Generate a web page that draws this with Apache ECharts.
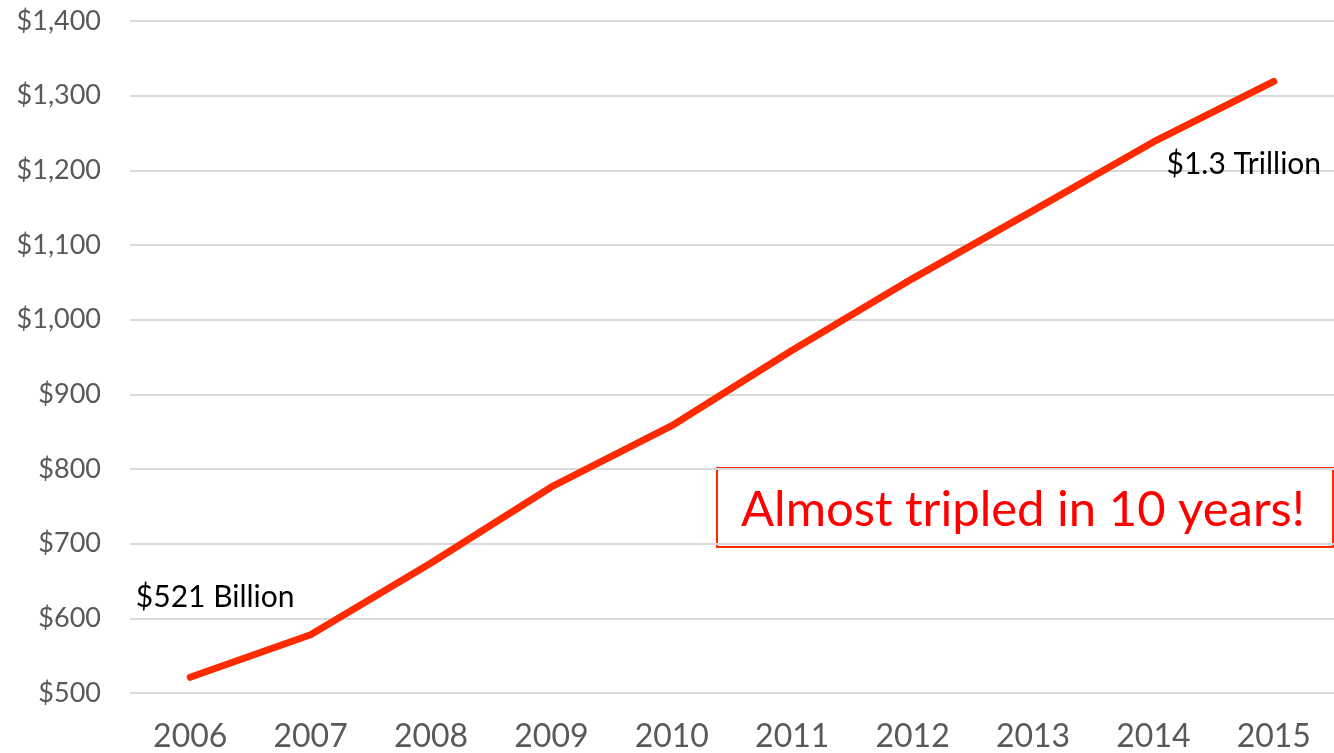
<!DOCTYPE html>
<html>
<head>
<meta charset="utf-8">
<script src="https://cdn.jsdelivr.net/npm/echarts@6/dist/echarts.min.js"></script>
<style>
html,body{margin:0;padding:0;background:#fff;}
#chart{width:1334px;height:753px;}
</style>
</head>
<body>
<div id="chart"></div>
<script>
const years = ['2006','2007','2008','2009','2010','2011','2012','2013','2014','2015'];
const values = [521, 578, 674, 776, 858, 959, 1055, 1146, 1238, 1319];
const yTicks = [500, 600, 700, 800, 900, 1000, 1100, 1200, 1300, 1400];
const startLabel = '$521 Billion';
const endLabel = '$1.3 Trillion';
const calloutText = 'Almost tripled in 10 years!';

const FONT = 'Lato';
const chart = echarts.init(document.getElementById('chart'));
chart.setOption({
  animation: false,
  backgroundColor: '#ffffff',
  grid: { left: 130, top: 21, width: 1208, height: 673, containLabel: false },
  xAxis: {
    type: 'category',
    data: years,
    boundaryGap: true,
    axisLine: { show: false },
    axisTick: { show: false },
    axisLabel: { color: '#595959', fontFamily: FONT, fontSize: 32, margin: 28 }
  },
  yAxis: {
    type: 'value',
    min: yTicks[0],
    max: yTicks[yTicks.length - 1],
    interval: 100,
    axisLine: { show: false },
    axisTick: { show: false },
    splitLine: { lineStyle: { color: '#d9d9d9', width: 2 } },
    axisLabel: {
      color: '#595959', fontFamily: FONT, fontSize: 27, margin: 29,
      formatter: v => '$' + v.toLocaleString('en-US')
    }
  },
  series: [{
    type: 'line',
    data: values,
    symbol: 'none',
    lineStyle: { color: '#ff2a00', width: 7, cap: 'round', join: 'round' },
    markPoint: {
      symbol: 'circle',
      symbolSize: 1,
      itemStyle: { color: 'rgba(0,0,0,0)' },
      data: [
        { coord: [0, values[0]], label: { show: true, formatter: startLabel, color: '#000', fontFamily: FONT, fontSize: 30, position: 'inside', offset: [25, -80] } },
        { coord: [years.length - 1, values[values.length - 1]], label: { show: true, formatter: endLabel, color: '#000', fontFamily: FONT, fontSize: 30, position: 'inside', offset: [-30, 83] } }
      ]
    }
  }],
  graphic: [{
    type: 'group',
    left: 716, top: 467,
    children: [
      { type: 'rect', shape: { x: 0, y: 0, width: 616, height: 79 }, style: { fill: '#fff', stroke: '#ff2a00', lineWidth: 2 } },
      { type: 'text', x: 306, y: 42, style: { text: calloutText, fill: '#ff0000', font: '49px Lato', textAlign: 'center', textVerticalAlign: 'middle' } }
    ]
  }]
});
</script>
</body>
</html>
